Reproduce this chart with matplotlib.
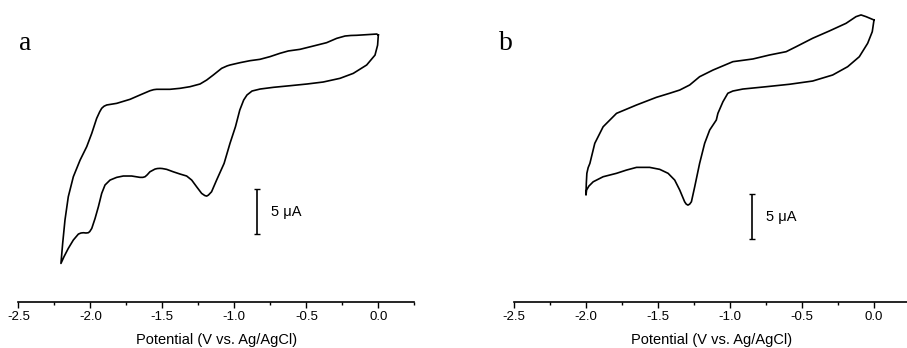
import matplotlib.pyplot as plt
from matplotlib.ticker import MultipleLocator

# cyclic voltammograms, potential in V vs Ag/AgCl, current in uA
# sample a: cathodic sweep 0 -> -2.2 V, then back to 0 V
a_potential = [0.000, -0.005, -0.023, -0.081, -0.174, -0.266, -0.383, -0.495, -0.613, -0.729,
               -0.821, -0.877, -0.912, -0.935, -0.962, -0.992, -1.030, -1.071, -1.123, -1.158,
               -1.180, -1.192, -1.205, -1.227, -1.262, -1.296, -1.331, -1.377, -1.424, -1.470,
               -1.500, -1.516, -1.535, -1.551, -1.586, -1.605, -1.620, -1.635, -1.655, -1.713,
               -1.771, -1.817, -1.863, -1.898, -1.921, -1.944, -1.967, -1.990, -2.004, -2.014,
               -2.030, -2.048, -2.065, -2.083, -2.118, -2.153, -2.183, -2.204,
               -2.192, -2.176, -2.153, -2.118, -2.071, -2.025, -1.990, -1.956, -1.935, -1.921,
               -1.905, -1.886, -1.817, -1.724, -1.655, -1.586, -1.560, -1.539, -1.447, -1.377,
               -1.308, -1.238, -1.192, -1.146, -1.088, -1.050, -1.030, -0.960, -0.891, -0.822,
               -0.752, -0.683, -0.625, -0.544, -0.451, -0.359, -0.289, -0.231, -0.190, -0.150,
               -0.080, -0.011, 0.000]
a_current = [18.33, 17.20, 16.10, 15.00, 14.07, 13.52, 13.11, 12.89, 12.70, 12.52,
             12.33, 12.11, 11.67, 11.11, 10.00, 8.15, 6.30, 4.07, 2.22, 0.92,
             0.55, 0.44, 0.50, 0.74, 1.48, 2.22, 2.67, 2.89, 3.14, 3.41,
             3.50, 3.52, 3.50, 3.44, 3.14, 2.80, 2.59, 2.52, 2.52, 2.67,
             2.67, 2.52, 2.22, 1.67, 0.74, -0.74, -2.04, -3.15, -3.50, -3.63,
             -3.66, -3.63, -3.66, -3.78, -4.44, -5.37, -6.30, -7.04,
             -4.81, -2.22, 0.37, 2.59, 4.44, 5.93, 7.41, 9.07, 9.80, 10.19,
             10.42, 10.56, 10.74, 11.19, 11.67, 12.14, 12.26, 12.30, 12.30, 12.41,
             12.59, 12.89, 13.33, 13.89, 14.63, 14.90, 15.00, 15.26, 15.48, 15.63,
             15.93, 16.30, 16.56, 16.74, 17.11, 17.48, 17.96, 18.22, 18.28, 18.30,
             18.37, 18.44, 18.33]

# sample b: cathodic sweep 0 -> -2.0 V, then back to 0 V
b_potential = [0.000, -0.012, -0.044, -0.102, -0.183, -0.287, -0.426, -0.587, -0.748, -0.911,
               -0.980, -1.015, -1.049, -1.084, -1.095, -1.141, -1.176, -1.211, -1.245, -1.268,
               -1.280, -1.292, -1.304, -1.315, -1.349, -1.384, -1.430, -1.488, -1.558, -1.649,
               -1.719, -1.788, -1.881, -1.950, -1.980, -1.996, -2.000,
               -1.998, -1.994, -1.985, -1.973, -1.939, -1.881, -1.788, -1.649, -1.511, -1.419,
               -1.349, -1.280, -1.211, -1.118, -0.980, -0.841, -0.726, -0.610, -0.541, -0.426,
               -0.310, -0.194, -0.125, -0.090, -0.055, 0.000]
b_current = [20.00, 18.70, 17.41, 15.92, 14.81, 13.89, 13.22, 12.86, 12.59, 12.33,
             12.11, 11.86, 10.92, 9.63, 8.89, 7.78, 6.30, 4.07, 1.48, -0.19,
             -0.45, -0.56, -0.45, -0.19, 1.11, 2.22, 2.97, 3.41, 3.63, 3.63,
             3.33, 2.97, 2.59, 2.03, 1.55, 1.11, 0.56,
             1.80, 2.97, 3.60, 4.07, 6.30, 8.14, 9.63, 10.56, 11.41, 11.86,
             12.22, 12.78, 13.70, 14.44, 15.37, 15.67, 16.11, 16.48, 17.03, 17.97,
             18.78, 19.63, 20.37, 20.56, 20.37, 20.00]

# 5 uA scale bars: (potential, bottom current)
a_bar = (-0.845, -3.78)
b_bar = (-0.848, -4.37)
bar_size = 5.0

plt.rcParams['font.family'] = ['Liberation Sans', 'DejaVu Sans']

fig = plt.figure(figsize=(9.07, 3.48), dpi=100)
ax_a = fig.add_axes([0.0202, 0.1333, 0.4366, 0.8667])
ax_b = fig.add_axes([0.5667, 0.1333, 0.4366, 0.8667])

panels = [(ax_a, a_potential, a_current, a_bar),
          (ax_b, b_potential, b_current, b_bar)]

for ax, pot, cur, bar in panels:
    ax.plot(pot, cur, color='black', lw=1.2, solid_joinstyle='round')
    x0, y0 = bar
    ax.errorbar([x0], [y0 + bar_size / 2], yerr=bar_size / 2, color='black',
                lw=1.2, capsize=2.2, capthick=1.0)
    ax.text(x0 + 0.1, y0 + bar_size / 2, '5 \u03bcA', fontsize=10.5,
            ha='left', va='center')
    ax.set_xlim(-2.5, 0.25)
    ax.set_ylim(-11.28, 22.22)
    ax.xaxis.set_minor_locator(MultipleLocator(0.25))
    ax.set_xticks([-2.5, -2.0, -1.5, -1.0, -0.5, 0.0])
    ax.set_xticklabels(['-2.5', '-2.0', '-1.5', '-1.0', '-0.5', '0.0'])
    ax.tick_params(axis='x', which='major', direction='out', length=4, width=1,
                   labelsize=9.5, pad=3)
    ax.tick_params(axis='x', which='minor', direction='out', length=2.5, width=1)
    ax.set_yticks([])
    for side in ['left', 'right', 'top']:
        ax.spines[side].set_visible(False)
    ax.spines['bottom'].set_linewidth(1.2)
    ax.set_xlabel('Potential (V vs. Ag/AgCl)', fontsize=10.5, labelpad=7)
    ax.patch.set_alpha(0)

fig.text(0.021, 0.856, 'a', fontsize=20, family='Liberation Serif', va='baseline')
fig.text(0.550, 0.856, 'b', fontsize=20, family='Liberation Serif', va='baseline')

fig.savefig('out.png', dpi=100)
